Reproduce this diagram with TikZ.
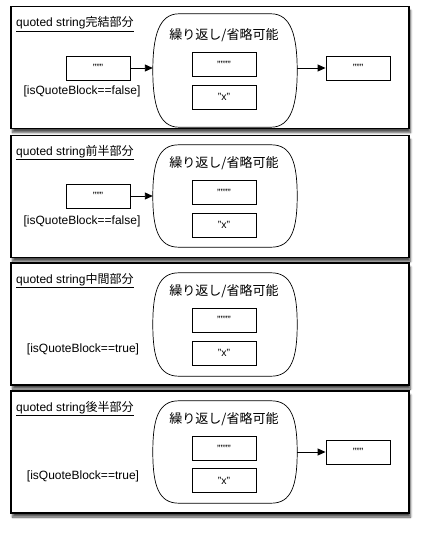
\documentclass[tikz,border=0pt]{standalone}
\usepackage{fontspec}
\setmainfont{Liberation Sans}
\newfontfamily\jpfont{Noto Sans CJK JP}
\usetikzlibrary{positioning,arrows.meta,calc,shadows.blur}
% barrel-shaped outline of a repeat/optional group around node #1
\newcommand{\loopshape}[1]{%
  \draw[loopline] ($(#1.north west)+(26,0)$) -- ($(#1.north east)+(-26,0)$)
    .. controls ($(#1.north east)+(-6,0)$) and ($(#1.east)+(0,-34)$) .. (#1.east)
    .. controls ($(#1.east)+(0,34)$) and ($(#1.south east)+(-6,0)$) .. ($(#1.south east)+(-26,0)$)
    -- ($(#1.south west)+(26,0)$)
    .. controls ($(#1.south west)+(6,0)$) and ($(#1.west)+(0,34)$) .. (#1.west)
    .. controls ($(#1.west)+(0,-34)$) and ($(#1.north west)+(6,0)$) .. cycle;%
}
\begin{document}
\begin{tikzpicture}[
    x=1pt, y=-1pt,
    panel/.style={draw, line width=1.2pt, fill=white, minimum width=398pt,
                  minimum height=122pt, inner sep=0pt,
                  blur shadow={shadow xshift=1.5pt, shadow yshift=-4pt,
                               shadow blur steps=8, shadow opacity=70}},
    ttl/.style={anchor=base west, inner xsep=0pt, inner ysep=1.6pt,
                font=\fontsize{12}{14}\selectfont},
    loopbox/.style={minimum width=144pt, inner sep=0pt},
    loopline/.style={line width=0.7pt},
    looplbl/.style={font=\jpfont\fontsize{13}{15}\selectfont, inner sep=0pt},
    tok/.style={draw, line width=0.9pt, minimum width=64pt, minimum height=24pt,
                inner sep=0pt, font=\fontsize{10.5}{12}\selectfont},
    cond/.style={font=\fontsize{12}{14}\selectfont, inner sep=0pt},
    fl/.style={-{Triangle[length=8pt,width=7pt]}, line width=0.9pt},
  ]
    \useasboundingbox (0,0) rectangle (420,535);

    % panel 1 -- complete
    \node[panel] (p1) at (210,67.5) {};
    \node[ttl] (t1) at (16,27) {quoted string{\jpfont 完結部分}};
    \draw[line width=0.6pt] (t1.south west) -- (t1.south east);
    \node[loopbox, minimum height=113pt] (l1) at (225,70.5) {};
    \loopshape{l1}
    \node[looplbl] (r1) at (224,35) {繰り返し/省略可能};
    \node[tok] (q1) at (224,64.5) {""""};
    \node[tok] (x1) at (224,97) {"x"};
    \node[tok] (a1) at (98,68) {"""};
    \node[cond] (c1) at (82,91) {[isQuoteBlock==false]};
    \node[tok] (b1) at (358,68) {"""};
    \draw[fl] (a1.east) -- (a1.east -| l1.west);
    \draw[fl] (b1.west -| l1.east) -- (b1.west);

    % panel 2 -- first half
    \node[panel] (p2) at (210,196.5) {};
    \node[ttl] (t2) at (16,155) {quoted string{\jpfont 前半部分}};
    \draw[line width=0.6pt] (t2.south west) -- (t2.south east);
    \node[loopbox, minimum height=102pt] (l2) at (225,196) {};
    \loopshape{l2}
    \node[looplbl] (r2) at (224,163) {繰り返し/省略可能};
    \node[tok] (q2) at (224,192.5) {""""};
    \node[tok] (x2) at (224,225) {"x"};
    \node[tok] (a2) at (98,196) {"""};
    \node[cond] (c2) at (82,221) {[isQuoteBlock==false]};
    \draw[fl] (a2.east) -- (a2.east -| l2.west);

    % panel 3 -- middle
    \node[panel] (p3) at (210,324) {};
    \node[ttl] (t3) at (16,283) {quoted string{\jpfont 中間部分}};
    \draw[line width=0.6pt] (t3.south west) -- (t3.south east);
    \node[loopbox, minimum height=103pt] (l3) at (225,324.5) {};
    \loopshape{l3}
    \node[looplbl] (r3) at (224,291) {繰り返し/省略可能};
    \node[tok] (q3) at (224,320) {""""};
    \node[tok] (x3) at (224,353) {"x"};
    \node[cond] (c3) at (83,349) {[isQuoteBlock==true]};

    % panel 4 -- last half
    \node[panel] (p4) at (210,452) {};
    \node[ttl] (t4) at (16,411) {quoted string{\jpfont 後半部分}};
    \draw[line width=0.6pt] (t4.south west) -- (t4.south east);
    \node[loopbox, minimum height=102pt] (l4) at (225,452) {};
    \loopshape{l4}
    \node[looplbl] (r4) at (224,419) {繰り返し/省略可能};
    \node[tok] (q4) at (224,448.5) {""""};
    \node[tok] (x4) at (224,480.5) {"x"};
    \node[cond] (c4) at (83,476) {[isQuoteBlock==true]};
    \node[tok] (b4) at (358,452) {"""};
    \draw[fl] (b4.west -| l4.east) -- (b4.west);
\end{tikzpicture}
\end{document}
